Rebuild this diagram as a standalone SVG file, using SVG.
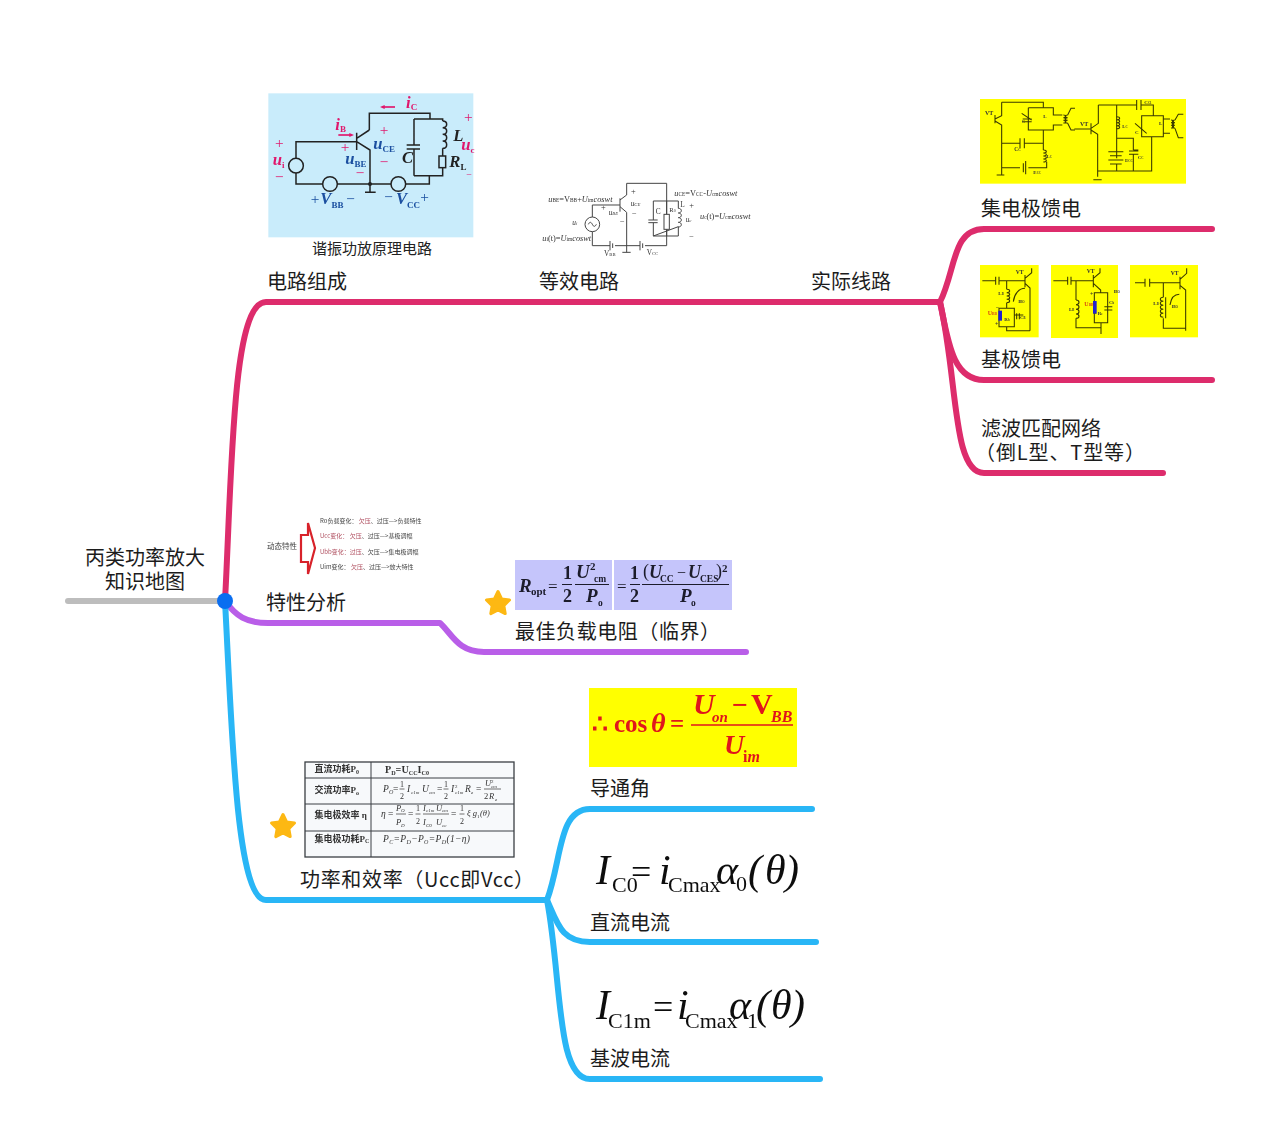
<svg xmlns="http://www.w3.org/2000/svg" width="1280" height="1147" viewBox="0 0 1280 1147">
<style>
.lbl{font:20px "Noto Sans CJK SC","Noto Sans",sans-serif;fill:#1c1c1c}
.br{fill:none;stroke-width:6;stroke-linecap:round;stroke-linejoin:round}
.w{fill:none;stroke:#222;stroke-width:4.5}
.w2{fill:none;stroke:#444;stroke-width:3}
.w3{fill:none;stroke:#3a3a00;stroke-width:3.2}
.sb{font-family:"Liberation Serif","Noto Sans CJK SC",serif;font-weight:bold;font-style:italic}
.s{font-family:"Liberation Serif","Noto Sans CJK SC",serif}
.u{font-style:normal;font-size:27px}
.p{fill:#e0186c}
.b{fill:#1a4fa0}
.k{fill:#222}
.y{font-family:"Liberation Serif",serif;fill:#333;font-weight:bold}
.m{font-family:"Liberation Serif","DejaVu Serif",serif;fill:#111}
.c{font:6px "Noto Sans CJK SC",sans-serif;fill:#444}
.t{font-family:"Liberation Serif","Noto Sans CJK SC",serif;fill:#333}
.i{font-style:italic}
</style>
<defs>
<filter id="soft"><feGaussianBlur stdDeviation="1.35"/></filter>
<filter id="soft1"><feGaussianBlur stdDeviation="0.32"/></filter>
<path id="star" d="M0-11.5 3.6-4 11.5-3 5.8 2.6 7.2 10.6 0 6.8 -7.2 10.6 -5.8 2.6 -11.5-3 -3.6-4Z" fill="#fdb813" stroke="#fdb813" stroke-width="3" stroke-linejoin="round"/>
</defs>
<rect width="1280" height="1147" fill="#fff"/>

<g id="connectors">
<path class="br" stroke="#bdbdbd" d="M68 601H225"/>
<path class="br" stroke="#dd2c6c" d="M225 601C232 470 232 302 266 302H940"/>
<path class="br" stroke="#dd2c6c" d="M940 302C956 270 952 229 984 229H1212"/>
<path class="br" stroke="#dd2c6c" d="M940 302C948 340 952 380 984 380H1212"/>
<path class="br" stroke="#dd2c6c" d="M940 302C958 380 952 473 984 473H1163"/>
<path class="br" stroke="#b95ee8" d="M225 601C236 616 246 623 268 623H440C452 634 458 652 484 652H746"/>
<path class="br" stroke="#29b6f6" d="M225 601C232 730 236 900 266 900H547"/>
<path class="br" stroke="#29b6f6" d="M547 900C562 860 558 809 590 809H812"/>
<path class="br" stroke="#29b6f6" d="M547 900C558 925 562 942 590 942H816"/>
<path class="br" stroke="#29b6f6" d="M547 900C562 980 556 1079 590 1079H820"/>
</g>

<g id="root">
<circle cx="225" cy="601" r="8" fill="#0a6ef0"/>
<text class="lbl" x="145" y="565" text-anchor="middle">丙类功率放大</text>
<text class="lbl" x="145" y="589" text-anchor="middle">知识地图</text>
</g>

<g id="node-circuit">
<text class="lbl" x="267" y="289">电路组成</text>
<g transform="translate(260 85) scale(.33333)" filter="url(#soft)">
<rect x="25" y="25" width="615" height="432" fill="#c9ecfb"/>
<path class="w" d="M290 170H108V297H508V272M328 135V85H510V102M462 102H548V108M548 213V190M548 248V272H462M290 143V195M290 160 328 135M290 170 330 195V322M315 322H347M462 102V180M462 192V272M440 180H480M440 192H480"/>
<circle cx="108" cy="242" r="22" fill="#c9ecfb" stroke="#222" stroke-width="4.5"/>
<circle cx="210" cy="297" r="22" fill="#c9ecfb" stroke="#222" stroke-width="4.5"/>
<circle cx="415" cy="297" r="22" fill="#c9ecfb" stroke="#222" stroke-width="4.5"/>
<circle cx="330" cy="297" r="6" fill="#222"/>
<path d="M548 108c16 0 16 20 0 20c16 0 16 20 0 20c16 0 16 20 0 20c16 0 16 22 0 22" class="w"/>
<rect x="537" y="213" width="20" height="35" fill="#c9ecfb" stroke="#222" stroke-width="4.5"/>
<path d="M405 66H370" stroke="#e0186c" stroke-width="5" fill="none"/><path d="M360 66l14-6v12z" class="p"/>
<path d="M235 150H270" stroke="#e0186c" stroke-width="5" fill="none"/><path d="M282 150l-14-6v12z" class="p"/>
<g class="sb" font-size="50">
<text class="p" x="438" y="68">i<tspan class="u" dy="6">C</tspan></text>
<text class="p" x="226" y="135">i<tspan class="u" dy="6">B</tspan></text>
<text class="p" x="38" y="240">u<tspan class="u" dy="8">i</tspan></text>
<text class="b" x="340" y="193">u<tspan class="u" dy="9">CE</tspan></text>
<text class="b" x="256" y="238">u<tspan class="u" dy="8">BE</tspan></text>
<text class="k" x="580" y="168">L</text>
<text class="p" x="604" y="196">u<tspan class="u" dy="8">c</tspan></text>
<text class="k" x="568" y="246">R<tspan class="u" dy="8">L</tspan></text>
<text class="k" x="426" y="233">C</text>
<text class="b" x="181" y="357">V<tspan class="u" dy="11">BB</tspan></text>
<text class="b" x="408" y="358">V<tspan class="u" dy="10">CC</tspan></text>
</g>
<g class="s" font-size="46" text-anchor="middle">
<text class="p" x="58" y="188">+</text><text class="p" x="58" y="292">−</text><text class="p" x="255" y="202">+</text><text class="p" x="372" y="150">+</text>
<text class="p" x="372" y="246">−</text><text class="p" x="300" y="278">−</text><text class="p" x="625" y="112">+</text><text class="p" x="627" y="278" font-size="30">−</text>
<text class="b" x="165" y="357">+</text><text class="b" x="272" y="357">−</text><text class="b" x="386" y="352">−</text><text class="b" x="494" y="350">+</text>
</g>
</g>
<text x="372" y="254" text-anchor="middle" font-size="15" class="s" fill="#222">谐振功放原理电路</text>
</g>

<g id="node-equivalent">
<text class="lbl" x="539" y="289">等效电路</text>
<g transform="translate(535 175) scale(.33333)" filter="url(#soft)">
<path class="w2" d="M255 90H172V212H225M240 212H315M330 212H395V25H275V60L255 75M255 70V110M255 95 275 112V232M262 232H287M355 78H430V100M430 155V183H355ZM395 78V118M395 163V183M355 78V135M355 143V183"/>
<circle cx="172" cy="148" r="22" fill="#fff" stroke="#444" stroke-width="3"/>
<path class="w2" d="M160 148c4-8 8-8 12 0s8 8 12 0"/>
<rect x="387" y="118" width="16" height="45" fill="#fff" stroke="#444" stroke-width="3"/>
<path class="w2" d="M340 135H368M340 143H368M225 198V226M233 205V219M315 198V226M323 205V219"/>
<path class="w2" d="M430 100c12 0 12 14 0 14c12 0 12 14 0 14c12 0 12 14 0 14c12 0 12 14 0 14"/>
<g class="t" font-size="25">
<text x="40" y="82"><tspan font-style="italic">u</tspan><tspan font-size="16">BE</tspan>=V<tspan font-size="16">BB</tspan>+<tspan font-style="italic">U</tspan><tspan font-size="16">im</tspan><tspan font-style="italic">coswt</tspan></text>
<text x="418" y="62"><tspan font-style="italic">u</tspan><tspan font-size="16">CE</tspan>=V<tspan font-size="16">CC</tspan>-<tspan font-style="italic">U</tspan><tspan font-size="16">cm</tspan><tspan font-style="italic">coswt</tspan></text>
<text x="495" y="132"><tspan font-style="italic">u</tspan><tspan font-size="16">c</tspan>(t)=<tspan font-style="italic">U</tspan><tspan font-size="16">cm</tspan><tspan font-style="italic">coswt</tspan></text>
<text x="22" y="198"><tspan font-style="italic">u</tspan><tspan font-size="16">i</tspan>(t)=<tspan font-style="italic">U</tspan><tspan font-size="16">im</tspan><tspan font-style="italic">coswt</tspan></text>
<text x="112" y="150" font-style="italic" font-size="22">u<tspan font-size="14">i</tspan></text>
<text x="221" y="120" font-style="italic" font-size="22">u<tspan font-size="14">BE</tspan></text>
<text x="287" y="92" font-style="italic" font-size="22">u<tspan font-size="14">CE</tspan></text>
<text x="452" y="142" font-style="italic" font-size="22">u<tspan font-size="14">c</tspan></text>
<text x="207" y="244" font-size="22">V<tspan font-size="14">BB</tspan></text>
<text x="335" y="240" font-size="22">V<tspan font-size="14">CC</tspan></text>
<text x="362" y="118" font-size="22">C</text><text x="403" y="110" font-size="20">R<tspan font-size="12">0</tspan></text><text x="436" y="97" font-size="22">L</text>
<text x="295" y="56" text-anchor="middle">+</text><text x="205" y="106" text-anchor="middle">+</text><text x="470" y="98" text-anchor="middle">+</text>
<text x="298" y="124" text-anchor="middle">−</text><text x="262" y="146" text-anchor="middle">−</text><text x="470" y="192" text-anchor="middle">−</text>
</g>
</g>
</g>

<g id="node-real">
<text class="lbl" x="811" y="289">实际线路</text>
</g>

<g id="node-collector">
<text class="lbl" x="981" y="216">集电极馈电</text>
<g transform="translate(975 95) scale(.33333)" filter="url(#soft)">
<rect x="15" y="12" width="618" height="254" fill="#ffff00"/>
<path class="w3" stroke-width="5" d="M80 22H205V38"/>
<path class="w3" d="M80 22V62L60 72M60 60V85M60 78 80 90V240M65 240H88M80 145H135M148 145H205V105M160 38H235V60H262M160 38V105H235V90H262M205 105V165M80 218H135M160 218H215V200M145 205V232M152 198V238M135 130V160M148 130V160"/>
<path class="w3" d="M205 165c12 0 12 9 0 9c12 0 12 9 0 9c12 0 12 9 0 9c12 0 12 9 0 9"/>
<path class="w3" d="M265 60c10 0 10 8 0 8c10 0 10 8 0 8c10 0 10 8 0 8M278 60c-10 0-10 8 0 8c-10 0-10 8 0 8c-10 0-10 8 0 8M278 60 288 40H300M278 85 288 105H300M140 55 170 75M143 72H170M143 80H170"/>
<path class="w3" d="M370 30H485M498 30H535V62M485 15V45M498 15V45M370 30V85L348 100M348 85V118M348 105 368 118V228M355 254H380M368 228V245M368 228H530V125M425 30V130H475V165M425 130V190M400 170H445M405 182H440M400 195H445M405 207H440M425 207V228M475 165H490M462 168H490M462 178H490M475 178V228M298 102H348M500 62H565V125H500ZM565 72H585M565 115H585"/>
<path class="w3" d="M425 65c12 0 12 9 0 9c12 0 12 9 0 9c12 0 12 9 0 9c12 0 12 9 0 9"/>
<path class="w3" d="M588 75c10 0 10 8 0 8c10 0 10 8 0 8c10 0 10 8 0 8M600 75c-10 0-10 8 0 8c-10 0-10 8 0 8c-10 0-10 8 0 8M600 75 610 58H625M600 100 610 128H625M480 85 515 115"/>
<g class="y" font-size="18">
<text x="30" y="60">VT</text><text x="315" y="92">VT</text><text x="118" y="168" font-size="16">C<tspan font-size="10">C</tspan></text><text x="215" y="188" font-size="14">L<tspan font-size="9">C</tspan></text><text x="175" y="238" font-size="15">E<tspan font-size="9">CC</tspan></text>
<text x="508" y="26" font-size="15">C<tspan font-size="9">C1</tspan></text><text x="442" y="100" font-size="14">L<tspan font-size="9">C</tspan></text><text x="450" y="200" font-size="15">E<tspan font-size="9">CC</tspan></text><text x="488" y="192" font-size="15">C<tspan font-size="9">C</tspan></text>
<text x="140" y="84" font-size="15">C</text><text x="205" y="70" font-size="15">L</text><text x="480" y="118" font-size="15">C</text><text x="552" y="90" font-size="15">L</text>
</g>
</g>
</g>

<g id="node-base">
<text class="lbl" x="981" y="367">基极馈电</text>
<g transform="translate(975 260) scale(.33333)" filter="url(#soft)">
<rect x="15" y="15" width="176" height="217" fill="#ffff00"/>
<rect x="228" y="15" width="201" height="219" fill="#ffff00"/>
<rect x="465" y="15" width="204" height="217" fill="#ffff00"/>
<path class="w3" d="M22 62H62M72 62H150M62 50V74M72 50V74M150 45V82M150 55 170 38V25M150 70 165 84V212M95 62V88M95 128V145M72 145H118V200H72ZM118 165H145M125 160V178M133 160V178M95 200V212H165"/>
<path class="w3" d="M95 88c12 0 12 10 0 10c12 0 12 10 0 10c12 0 12 10 0 10c12 0 12 10 0 10"/>
<path class="w3" d="M115 125c3-25 18-40 35-40"/>
<rect x="70" y="152" width="11" height="30" fill="#2020d0"/>
<path class="w3" d="M235 62H278M288 62H355M278 50V74M288 50V74M355 45V82M355 55 375 38V25M355 70 377 90V98M303 62V120M303 175V203H378V222M358 98H398V188H358ZM378 188V203M388 140H412M388 150H412"/>
<path class="w3" d="M303 120c12 0 12 14 0 14c12 0 12 14 0 14c12 0 12 14 0 14c12 0 12 13 0 13"/>
<rect x="354" y="123" width="11" height="38" fill="#2020d0"/>
<path class="w3" d="M480 68H510M524 68H615M510 56V80M524 56V80M615 50V88M615 58 635 40V25M615 76 632 90V212M565 68V112M565 175V205H632"/>
<path class="w3" d="M565 112c-12 0-12 12 0 12c-12 0-12 12 0 12c-12 0-12 12 0 12c-12 0-12 12 0 12c-12 0-12 12 0 12M572 112V175M585 135c3-20 12-32 28-32"/>
<g class="y" font-size="17">
<text x="122" y="42">VT</text><text x="335" y="38">VT</text><text x="587" y="46">VT</text>
<text x="70" y="105" font-size="15">L<tspan font-size="9">B</tspan></text><text x="130" y="130" font-size="15">I<tspan font-size="9">BO</tspan></text><text x="135" y="178" font-size="15">C<tspan font-size="9">B</tspan></text><text x="88" y="182" font-size="15">R<tspan font-size="9">b</tspan></text>
<text x="282" y="152" font-size="15">L<tspan font-size="9">B</tspan></text><text x="416" y="100" font-size="15">I<tspan font-size="9">BO</tspan></text><text x="402" y="132" font-size="15">C<tspan font-size="9">b</tspan></text><text x="368" y="165" font-size="15">R<tspan font-size="9">e</tspan></text>
<text x="535" y="135" font-size="15">L<tspan font-size="9">B</tspan></text><text x="590" y="145" font-size="15">I<tspan font-size="9">BO</tspan></text>
<text x="38" y="165" font-size="18" fill="#d84a10">U<tspan font-size="11">BB</tspan></text><text x="328" y="138" font-size="18" fill="#d84a10">U<tspan font-size="11">BB</tspan></text>
<text x="60" y="198">+</text><text x="345" y="108">+</text><text x="62" y="146">−</text><text x="355" y="165">−</text>
</g>
</g>
</g>

<g id="node-filter">
<text class="lbl" x="981" y="436">滤波匹配网络</text>
<text class="lbl" x="975" y="460" textLength="170" lengthAdjust="spacing">（倒L型、T型等）</text>
</g>

<g id="node-analysis">
<text class="lbl" x="266" y="610">特性分析</text>
<g filter="url(#soft1)">
<text class="c" x="267" y="549" style="font-size:7.5px">动态特性</text>
<path d="M301 535H308V523L315 548 308 574V562H301Z" fill="#fff" stroke="#d8232a" stroke-width="2.2"/>
<text class="c" x="320" y="523">Ro负载变化： <tspan fill="#b05060">欠压</tspan>、过压—&gt;负载特性</text>
<text class="c" x="320" y="538"><tspan fill="#b05060">Ucc变化：</tspan> <tspan fill="#b05060">欠压</tspan>、过压—&gt;基极调幅</text>
<text class="c" x="320" y="554"><tspan fill="#b05060">Ubb变化：过压</tspan>、欠压—&gt;集电极调幅</text>
<text class="c" x="320" y="569">Uim变化： <tspan fill="#b05060">欠压</tspan>、过压—&gt;放大特性</text>
</g>
</g>

<g id="node-ropt">
<use href="#star" x="498" y="603"/>
<text class="lbl" x="515" y="639" textLength="205" lengthAdjust="spacing">最佳负载电阻（临界）</text>
<g filter="url(#soft1)">
<rect x="515" y="560" width="97" height="50" fill="#c5c5fb"/>
<rect x="614" y="560" width="118" height="50" fill="#c5c5fb"/>
<text font-family="Liberation Serif,serif" font-weight="bold" fill="#1a1a2a" font-size="19">
<tspan x="519" y="592" class="i">R</tspan><tspan x="531" y="595" font-size="11">opt</tspan>
<tspan x="548" y="592" font-size="17" font-weight="normal">=</tspan>
<tspan x="563" y="579" font-size="18">1</tspan><tspan x="563" y="602" font-size="18">2</tspan>
<tspan x="576" y="578" class="i">U</tspan><tspan x="590" y="570" font-size="11">2</tspan><tspan x="594" y="582" font-size="9.5">cm</tspan>
<tspan x="586" y="602" class="i">P</tspan><tspan x="598" y="606" font-size="9.5">o</tspan>
<tspan x="617" y="592" font-size="17" font-weight="normal">=</tspan>
<tspan x="630" y="579" font-size="18">1</tspan><tspan x="630" y="602" font-size="18">2</tspan>
<tspan x="643" y="577" font-size="18" font-weight="normal">(</tspan><tspan x="649" y="578" class="i" font-size="18">U</tspan><tspan x="660" y="582" font-size="9.5">CC</tspan>
<tspan x="677" y="578" font-size="16" font-weight="normal">−</tspan><tspan x="688" y="578" class="i" font-size="18">U</tspan><tspan x="700" y="582" font-size="9.5">CES</tspan>
<tspan x="716" y="577" font-size="18" font-weight="normal">)</tspan><tspan x="722" y="572" font-size="11">2</tspan>
<tspan x="680" y="602" class="i">P</tspan><tspan x="691" y="606" font-size="9.5">o</tspan>
</text>
<path d="M562 584.5H572M575 584.5H609M630 584.5H640M642 584.5H729" stroke="#1a1a2a" stroke-width="1.1" fill="none"/>
</g>
</g>

<g id="node-power">
<use href="#star" x="283" y="826"/>
<text class="lbl" x="300" y="887" textLength="234" lengthAdjust="spacing">功率和效率（Ucc即Vcc）</text>
<g filter="url(#soft1)">
<rect x="305" y="762" width="209" height="95" fill="#f7f9fb" stroke="#3a3f44" stroke-width="1.3"/>
<path d="M371 762V857M305 778H514M305 804H514M305 831H514" stroke="#3a3f44" stroke-width="1" fill="none"/>
<g class="t" font-size="9" font-weight="bold">
<text x="314.5" y="772">直流功耗P<tspan font-size="6" dy="1.5">0</tspan></text>
<text x="314.5" y="793">交流功率P<tspan font-size="6" dy="1.5">o</tspan></text>
<text x="314.5" y="818">集电极效率 η</text>
<text x="314.5" y="841.5">集电极功耗P<tspan font-size="6" dy="1.5">C</tspan></text>
<text x="385" y="773" font-size="10" textLength="44" lengthAdjust="spacingAndGlyphs">P<tspan font-size="6" dy="1.5">D</tspan><tspan dy="-1.5">=U</tspan><tspan font-size="6" dy="1.5">CC</tspan><tspan dy="-1.5">I</tspan><tspan font-size="6" dy="1.5">C0</tspan></text>
</g>
<text class="t" font-size="9.5">
<tspan class="i" x="383" y="792">P</tspan><tspan class="i" x="389" y="794" font-size="6">O</tspan><tspan x="393" y="792">=</tspan>
<tspan x="400" y="787" font-size="8">1</tspan><tspan x="400" y="799" font-size="8">2</tspan>
<tspan class="i" x="407" y="792">I</tspan><tspan class="i" x="411" y="794" font-size="5">c1m</tspan><tspan class="i" x="422" y="792">U</tspan><tspan class="i" x="429" y="794" font-size="5">cm</tspan><tspan x="437" y="792">=</tspan>
<tspan x="444" y="787" font-size="8">1</tspan><tspan x="444" y="799" font-size="8">2</tspan>
<tspan class="i" x="451" y="792">I</tspan><tspan x="455" y="788" font-size="5">2</tspan><tspan class="i" x="455" y="794" font-size="5">c1m</tspan><tspan class="i" x="465" y="792">R</tspan><tspan class="i" x="471" y="794" font-size="5">e</tspan><tspan x="476" y="792">=</tspan>
<tspan class="i" x="485" y="786" font-size="8.5">U</tspan><tspan x="491" y="783" font-size="5">2</tspan><tspan class="i" x="491" y="788" font-size="5">cm</tspan>
<tspan x="484" y="799" font-size="8.5">2</tspan><tspan class="i" x="489" y="799" font-size="8.5">R</tspan><tspan class="i" x="495" y="801" font-size="5">e</tspan>
</text>
<text class="t" font-size="9.5">
<tspan class="i" x="381" y="817">η</tspan><tspan x="388" y="817">=</tspan>
<tspan class="i" x="396" y="810.5" font-size="8.5">P</tspan><tspan class="i" x="401" y="812" font-size="5">O</tspan>
<tspan class="i" x="396" y="825" font-size="8.5">P</tspan><tspan class="i" x="401" y="826.5" font-size="5">D</tspan>
<tspan x="408" y="817">=</tspan>
<tspan x="416" y="811" font-size="8">1</tspan><tspan x="416" y="824" font-size="8">2</tspan>
<tspan class="i" x="423" y="810.5" font-size="8.5">I</tspan><tspan class="i" x="426" y="812" font-size="5">c1m</tspan><tspan class="i" x="436" y="810.5" font-size="8.5">U</tspan><tspan class="i" x="442" y="812" font-size="5">cm</tspan>
<tspan class="i" x="423" y="825" font-size="8.5">I</tspan><tspan class="i" x="426" y="826.5" font-size="5">C0</tspan><tspan class="i" x="436" y="825" font-size="8.5">U</tspan><tspan class="i" x="442" y="826.5" font-size="5">cc</tspan>
<tspan x="451" y="817">=</tspan>
<tspan x="460" y="811" font-size="8">1</tspan><tspan x="460" y="824" font-size="8">2</tspan>
<tspan class="i" x="467" y="816" font-size="8.5">ξ g</tspan><tspan x="477" y="817.5" font-size="5">1</tspan><tspan class="i" x="480" y="816" font-size="8.5">(θ)</tspan>
</text>
<path d="M399.500 789H404.500M443.500 789H448.500M484 789H501M396 814H406M415.500 814H420.500M423 814H449M459.500 814H464.500" stroke="#333" stroke-width=".7" fill="none"/>
<text class="t i" x="383" y="842" font-size="9.5" textLength="87" lengthAdjust="spacing">P<tspan font-size="6" dy="1.5">C</tspan><tspan dy="-1.5">=P</tspan><tspan font-size="6" dy="1.5">D</tspan><tspan dy="-1.5">−P</tspan><tspan font-size="6" dy="1.5">O</tspan><tspan dy="-1.5">=P</tspan><tspan font-size="6" dy="1.5">D</tspan><tspan dy="-1.5">(1−η)</tspan></text>
</g>
</g>

<g id="node-angle">
<text class="lbl" x="590" y="796">导通角</text>
<g filter="url(#soft1)">
<rect x="589" y="688" width="208" height="79" fill="#ffff00"/>
<text font-family="Liberation Serif,serif" font-weight="bold" fill="#e0141c" font-size="25">
<tspan x="592" y="732">∴</tspan><tspan x="614" y="732">cos</tspan><tspan x="651" y="732" font-size="28" class="i">θ</tspan><tspan x="670" y="732">=</tspan>
<tspan x="693" y="714" font-size="30" class="i">U</tspan><tspan x="712" y="722" font-size="15" class="i">on</tspan><tspan x="732" y="714" font-size="28">−</tspan><tspan x="751" y="714" font-size="30">V</tspan><tspan x="771" y="722" font-size="16" class="i">BB</tspan>
<tspan x="724" y="754" font-size="28" class="i">U</tspan><tspan x="743" y="762" font-size="16">i</tspan><tspan font-size="16" class="i">m</tspan>
</text>
<path d="M691 725H793" stroke="#e0141c" stroke-width="1.6" fill="none"/>
</g>
</g>

<g id="node-dc">
<text class="lbl" x="590" y="930">直流电流</text>
<text class="m i" filter="url(#soft1)" font-size="42">
<tspan x="596" y="884">I</tspan><tspan x="612" y="892" font-size="22" font-style="normal">C0</tspan><tspan x="631" y="884" font-size="36" font-style="normal">=</tspan><tspan x="659" y="884">i</tspan><tspan x="668" y="892" font-size="22" font-style="normal">Cmax</tspan><tspan x="716" y="884">α</tspan><tspan x="736" y="891" font-size="22" font-style="normal">0</tspan><tspan x="748" y="884">(</tspan><tspan x="765" y="884">θ</tspan><tspan x="785" y="884">)</tspan>
</text>
</g>

<g id="node-fund">
<text class="lbl" x="590" y="1066">基波电流</text>
<text class="m i" filter="url(#soft1)" font-size="42">
<tspan x="596" y="1019">I</tspan><tspan x="608" y="1028" font-size="22" font-style="normal">C1m</tspan><tspan x="653" y="1019" font-size="36" font-style="normal">=</tspan><tspan x="677" y="1019">i</tspan><tspan x="685" y="1028" font-size="22" font-style="normal">Cmax</tspan><tspan x="729" y="1019">α</tspan><tspan x="747" y="1028" font-size="22" font-style="normal">1</tspan><tspan x="756" y="1019">(</tspan><tspan x="771" y="1019">θ</tspan><tspan x="791" y="1019">)</tspan>
</text>
</g>
</svg>
